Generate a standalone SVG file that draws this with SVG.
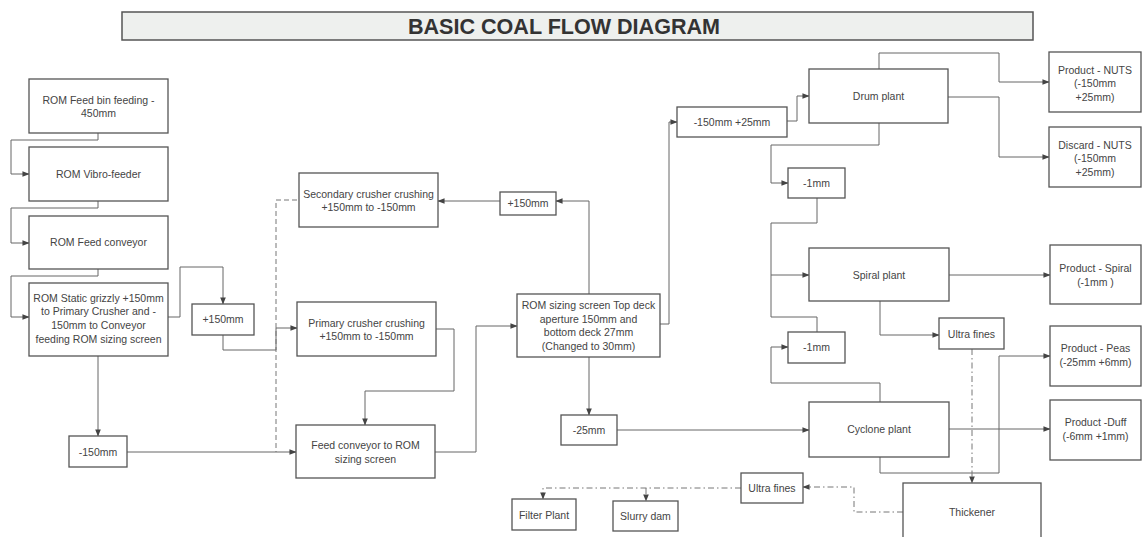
<svg xmlns="http://www.w3.org/2000/svg" width="1142" height="537" viewBox="0 0 1142 537">
<style>
.bg{fill:#ffffff}
.box{fill:#ffffff;stroke:#555;stroke-width:1.3}
.t{font-family:"Liberation Sans",Arial,sans-serif;font-size:10.5px;fill:#444;text-anchor:middle}
.ln{fill:none;stroke:#666;stroke-width:1}
.dash{fill:none;stroke:#777;stroke-width:1;stroke-dasharray:5,3}
.dd{fill:none;stroke:#777;stroke-width:1;stroke-dasharray:6,3,1.5,3}
.title{font-family:"Liberation Sans",Arial,sans-serif;font-size:22px;font-weight:bold;fill:#333;text-anchor:middle}
</style>
<defs>
<marker id="ar" viewBox="0 0 8 8" refX="7.5" refY="4" markerWidth="7" markerHeight="7" markerUnits="userSpaceOnUse" orient="auto">
<path d="M0,0.8 L8,4 L0,7.2 Z" fill="#444"/>
</marker>
</defs>
<rect class="bg" x="0" y="0" width="1142" height="537"/>
<g id="title">
<rect x="122" y="12" width="911" height="28" fill="#eef0ee" stroke="#555" stroke-width="1.5"/>
<text class="title" x="564" y="34" textLength="312" lengthAdjust="spacingAndGlyphs">BASIC COAL FLOW DIAGRAM</text>
</g>
<g id="connectors">
<path class="ln" marker-end="url(#ar)" d="M98,133 V140 H11 V174 H29"/>
<path class="ln" marker-end="url(#ar)" d="M98,201 V208 H11 V243 H29"/>
<path class="ln" marker-end="url(#ar)" d="M98,269 V276 H11 V317 H29"/>
<path class="ln" marker-end="url(#ar)" d="M168,317 H180 V267 H223 V304"/>
<path class="ln" marker-end="url(#ar)" d="M223,335 V350 H276 V328 H297"/>
<path class="ln" marker-end="url(#ar)" d="M98,356 V436"/>
<path class="dash" d="M297,200 H276 V452"/>
<path class="ln" marker-end="url(#ar)" d="M127,452 H296"/>
<path class="ln" marker-end="url(#ar)" d="M436,329 H454 V391 H365 V425"/>
<path class="ln" marker-end="url(#ar)" d="M435,452 H476 V326 H517"/>
<path class="ln" marker-end="url(#ar)" d="M589,294 V201 H556"/>
<path class="ln" marker-end="url(#ar)" d="M500,201 H438"/>
<path class="ln" marker-end="url(#ar)" d="M589,357 V415"/>
<path class="ln" marker-end="url(#ar)" d="M617,430 H809"/>
<path class="ln" marker-end="url(#ar)" d="M660,324 H669 V122 H677"/>
<path class="ln" marker-end="url(#ar)" d="M787,121 H797 V96 H809"/>
<path class="ln" marker-end="url(#ar)" d="M879,69 V53 H999 V82 H1049"/>
<path class="ln" marker-end="url(#ar)" d="M948,97 H999 V157 H1049"/>
<path class="ln" marker-end="url(#ar)" d="M879,123 V145 H771 V183 H788"/>
<path class="ln" marker-end="url(#ar)" d="M817,198 V223 H771 V275 H809"/>
<path class="ln" d="M817,332 V317 H771 V275"/>
<path class="ln" marker-end="url(#ar)" d="M949,275 H1050"/>
<path class="ln" marker-end="url(#ar)" d="M880,301 V335 H939"/>
<path class="ln" marker-end="url(#ar)" d="M880,402 V383 H771 V347 H788"/>
<path class="ln" marker-end="url(#ar)" d="M949,429 H1050"/>
<path class="ln" marker-end="url(#ar)" d="M880,457 V473 H999 V356 H1050"/>
<path class="dd" marker-end="url(#ar)" d="M972,349 V483"/>
<path class="dd" marker-end="url(#ar)" d="M903,512 H854 V487 H803"/>
<path class="dd" marker-end="url(#ar)" d="M741,488 H543 V499"/>
<path class="dd" marker-end="url(#ar)" d="M646,488 V501"/>
</g>
<g id="n-bin"><rect class="box" x="29" y="79" width="139" height="54"/><text class="t" x="98.5" y="103.5">ROM Feed bin feeding -<tspan x="98.5" dy="13.5">450mm</tspan></text></g>
<g id="n-vibro"><rect class="box" x="29" y="147" width="139" height="54"/><text class="t" x="98.5" y="177.5">ROM Vibro-feeder</text></g>
<g id="n-feedconv"><rect class="box" x="29" y="216" width="139" height="53"/><text class="t" x="98.5" y="246">ROM Feed conveyor</text></g>
<g id="n-grizzly"><rect class="box" x="29" y="283" width="139" height="73"/><text class="t" x="98.5" y="301.5">ROM Static grizzly +150mm<tspan x="98.5" dy="13.7">to Primary Crusher and -</tspan><tspan x="98.5" dy="13.7">150mm to Conveyor</tspan><tspan x="98.5" dy="13.7">feeding ROM sizing screen</tspan></text></g>
<g id="n-plus150a"><rect class="box" x="192" y="304" width="62" height="31"/><text class="t" x="223" y="323">+150mm</text></g>
<g id="n-minus150"><rect class="box" x="69" y="436" width="58" height="31"/><text class="t" x="98" y="455.5">-150mm</text></g>
<g id="n-secondary"><rect class="box" x="299" y="173" width="139" height="54"/><text class="t" x="368.5" y="197.5">Secondary crusher crushing<tspan x="368.5" dy="13.5">+150mm to -150mm</tspan></text></g>
<g id="n-primary"><rect class="box" x="297" y="302" width="139" height="54"/><text class="t" x="366.5" y="326.5">Primary crusher crushing<tspan x="366.5" dy="13.5">+150mm to -150mm</tspan></text></g>
<g id="n-feedscreen"><rect class="box" x="296" y="425" width="139" height="53"/><text class="t" x="365.5" y="449">Feed conveyor to ROM<tspan x="365.5" dy="13.5">sizing screen</tspan></text></g>
<g id="n-plus150b"><rect class="box" x="500" y="192" width="56" height="23"/><text class="t" x="528" y="207">+150mm</text></g>
<g id="n-sizing"><rect class="box" x="517" y="294" width="143" height="63"/><text class="t" x="588.5" y="309">ROM sizing screen Top deck<tspan x="588.5" dy="13.5">aperture 150mm and</tspan><tspan x="588.5" dy="13.5">bottom deck 27mm</tspan><tspan x="588.5" dy="13.5">(Changed to 30mm)</tspan></text></g>
<g id="n-m150p25"><rect class="box" x="677" y="107" width="110" height="30"/><text class="t" x="732" y="125.5">-150mm +25mm</text></g>
<g id="n-drum"><rect class="box" x="809" y="69" width="139" height="54"/><text class="t" x="878.5" y="99.5">Drum plant</text></g>
<g id="n-nuts"><rect class="box" x="1049" y="52" width="92" height="60"/><text class="t" x="1095" y="73.5">Product - NUTS<tspan x="1095" dy="13.5">(-150mm</tspan><tspan x="1095" dy="13.5">+25mm)</tspan></text></g>
<g id="n-discard"><rect class="box" x="1049" y="127" width="92" height="60"/><text class="t" x="1095" y="148.5">Discard - NUTS<tspan x="1095" dy="13.5">(-150mm</tspan><tspan x="1095" dy="13.5">+25mm)</tspan></text></g>
<g id="n-m1a"><rect class="box" x="788" y="168" width="57" height="30"/><text class="t" x="816.5" y="186.5">-1mm</text></g>
<g id="n-spiral"><rect class="box" x="809" y="248" width="140" height="53"/><text class="t" x="879" y="278.5">Spiral plant</text></g>
<g id="n-prodspiral"><rect class="box" x="1050" y="245" width="91" height="59"/><text class="t" x="1095.5" y="272">Product - Spiral<tspan x="1095.5" dy="13.5">(-1mm )</tspan></text></g>
<g id="n-ultra1"><rect class="box" x="939" y="318" width="65" height="31"/><text class="t" x="971.5" y="337.5">Ultra fines</text></g>
<g id="n-m1b"><rect class="box" x="788" y="332" width="57" height="31"/><text class="t" x="816.5" y="351">-1mm</text></g>
<g id="n-peas"><rect class="box" x="1050" y="326" width="91" height="60"/><text class="t" x="1095.5" y="352">Product - Peas<tspan x="1095.5" dy="13.5">(-25mm +6mm)</tspan></text></g>
<g id="n-cyclone"><rect class="box" x="809" y="402" width="140" height="55"/><text class="t" x="879" y="433">Cyclone plant</text></g>
<g id="n-duff"><rect class="box" x="1050" y="400" width="91" height="60"/><text class="t" x="1095.5" y="426">Product -Duff<tspan x="1095.5" dy="13.5">(-6mm +1mm)</tspan></text></g>
<g id="n-m25"><rect class="box" x="561" y="415" width="56" height="30"/><text class="t" x="589" y="433.5">-25mm</text></g>
<g id="n-thickener"><rect class="box" x="903" y="483" width="138" height="62"/><text class="t" x="972" y="515.5">Thickener</text></g>
<g id="n-ultra2"><rect class="box" x="741" y="473" width="62" height="30"/><text class="t" x="772" y="491.5">Ultra fines</text></g>
<g id="n-filter"><rect class="box" x="512" y="499" width="64" height="31"/><text class="t" x="544" y="518.5">Filter Plant</text></g>
<g id="n-slurry"><rect class="box" x="613" y="501" width="65" height="30"/><text class="t" x="645.5" y="520">Slurry dam</text></g>
</svg>
